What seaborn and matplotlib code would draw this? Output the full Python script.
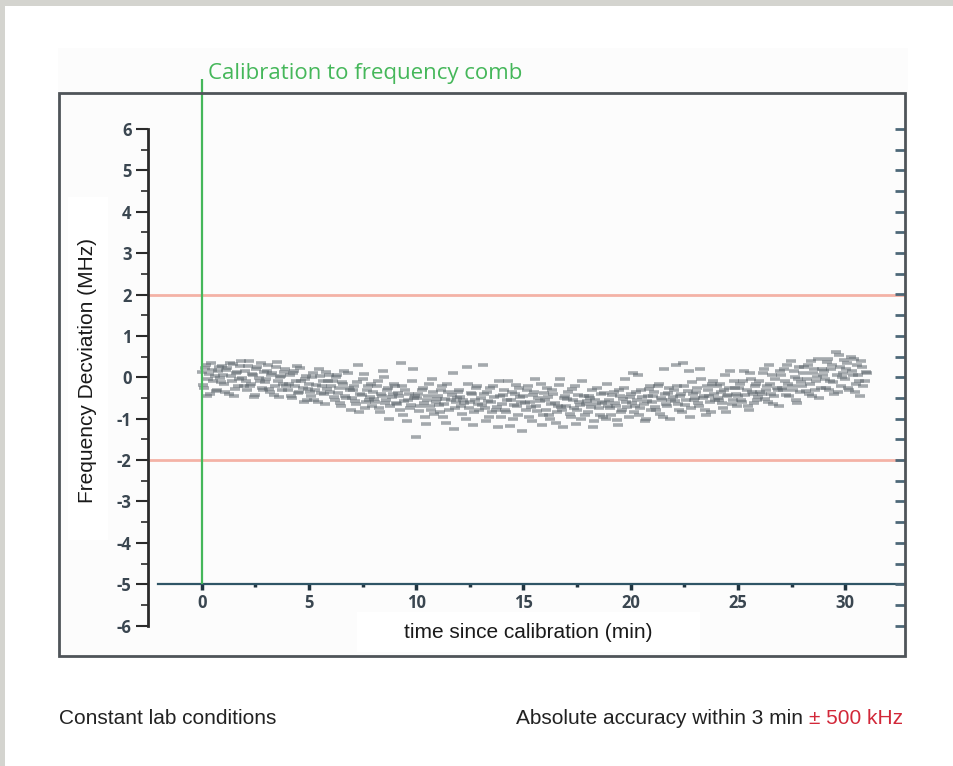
import matplotlib
matplotlib.use('Agg')
import matplotlib.pyplot as plt
from matplotlib.patches import Rectangle
from matplotlib.ticker import FixedLocator
import seaborn as sns
import pandas as pd

# ---------------- data ----------------
t_min = [
    0.0, 0.1, 0.2, 0.3, 0.4, 0.5, 0.6, 0.7, 0.8, 0.9,
    1.0, 1.1, 1.2, 1.3, 1.4, 1.5, 1.6, 1.7, 1.8, 1.9,
    2.0, 2.1, 2.2, 2.3, 2.4, 2.5, 2.6, 2.7, 2.8, 2.9,
    3.0, 3.1, 3.2, 3.3, 3.4, 3.5, 3.6, 3.7, 3.8, 3.9,
    4.0, 4.1, 4.2, 4.3, 4.4, 4.5, 4.6, 4.7, 4.8, 4.9,
    5.0, 5.1, 5.2, 5.3, 5.4, 5.5, 5.6, 5.7, 5.8, 5.9,
    6.0, 6.1, 6.2, 6.3, 6.4, 6.5, 6.6, 6.7, 6.8, 6.9,
    7.0, 7.1, 7.2, 7.3, 7.4, 7.5, 7.6, 7.7, 7.8, 7.9,
    8.0, 8.1, 8.2, 8.3, 8.4, 8.5, 8.6, 8.7, 8.8, 8.9,
    9.0, 9.1, 9.2, 9.3, 9.4, 9.5, 9.6, 9.7, 9.8, 9.9,
    10.0, 10.1, 10.2, 10.3, 10.4, 10.5, 10.6, 10.7, 10.8, 10.9,
    11.0, 11.1, 11.2, 11.3, 11.4, 11.5, 11.6, 11.7, 11.8, 11.9,
    12.0, 12.1, 12.2, 12.3, 12.4, 12.5, 12.6, 12.7, 12.8, 12.9,
    13.0, 13.1, 13.2, 13.3, 13.4, 13.5, 13.6, 13.7, 13.8, 13.9,
    14.0, 14.1, 14.2, 14.3, 14.4, 14.5, 14.6, 14.7, 14.8, 14.9,
    15.0, 15.1, 15.2, 15.3, 15.4, 15.5, 15.6, 15.7, 15.8, 15.9,
    16.0, 16.1, 16.2, 16.3, 16.4, 16.5, 16.6, 16.7, 16.8, 16.9,
    17.0, 17.1, 17.2, 17.3, 17.4, 17.5, 17.6, 17.7, 17.8, 17.9,
    18.0, 18.1, 18.2, 18.3, 18.4, 18.5, 18.6, 18.7, 18.8, 18.9,
    19.0, 19.1, 19.2, 19.3, 19.4, 19.5, 19.6, 19.7, 19.8, 19.9,
    20.0, 20.1, 20.2, 20.3, 20.4, 20.5, 20.6, 20.7, 20.8, 20.9,
    21.0, 21.1, 21.2, 21.3, 21.4, 21.5, 21.6, 21.7, 21.8, 21.9,
    22.0, 22.1, 22.2, 22.3, 22.4, 22.5, 22.6, 22.7, 22.8, 22.9,
    23.0, 23.1, 23.2, 23.3, 23.4, 23.5, 23.6, 23.7, 23.8, 23.9,
    24.0, 24.1, 24.2, 24.3, 24.4, 24.5, 24.6, 24.7, 24.8, 24.9,
    25.0, 25.1, 25.2, 25.3, 25.4, 25.5, 25.6, 25.7, 25.8, 25.9,
    26.0, 26.1, 26.2, 26.3, 26.4, 26.5, 26.6, 26.7, 26.8, 26.9,
    27.0, 27.1, 27.2, 27.3, 27.4, 27.5, 27.6, 27.7, 27.8, 27.9,
    28.0, 28.1, 28.2, 28.3, 28.4, 28.5, 28.6, 28.7, 28.8, 28.9,
    29.0, 29.1, 29.2, 29.3, 29.4, 29.5, 29.6, 29.7, 29.8, 29.9,
    30.0, 30.1, 30.2, 30.3, 30.4, 30.5, 30.6, 30.7, 30.8, 30.9,
    31.0,
]
dev_mhz = [
    0.12, -0.25, 0.30, -0.05, -0.40, 0.18, 0.02, -0.30, 0.25, -0.12,
    0.05, -0.35, 0.22, 0.35, -0.10, -0.45, 0.10, -0.20, 0.28, -0.02,
    0.15, -0.30, 0.40, -0.15, 0.05, -0.42, 0.25, -0.08, -0.25, 0.12,
    -0.05, 0.30, -0.35, 0.10, -0.20, 0.38, -0.48, 0.02, -0.15, 0.20,
    -0.30, 0.05, -0.50, 0.15, -0.10, -0.38, 0.22, -0.25, -0.05, -0.55,
    -0.15, -0.45, 0.10, -0.30, -0.60, 0.02, -0.20, -0.40, 0.12, -0.08,
    -0.35, -0.10, -0.55, 0.05, -0.25, -0.70, -0.15, -0.45, 0.10, -0.30,
    -0.50, -0.20, -0.65, 0.30, -0.40, -0.05, -0.75, -0.30, -0.55, -0.15,
    -0.35, -0.60, -0.10, -0.85, -0.45, 0.00, -0.55, -0.25, -0.70, -0.40,
    -0.20, -0.65, -0.45, 0.35, -0.90, -0.30, -0.55, -0.75, -0.10, -0.50,
    -1.45, -0.40, -0.70, -0.25, -0.95, -0.55, -0.15, -0.80, -0.35, -0.60,
    -0.45, -0.85, -0.20, -0.65, -1.10, -0.35, -0.55, 0.10, -0.75, -0.50,
    -0.30, -0.70, -0.55, -1.00, -0.15, -0.60, -0.40, -0.85, -0.25, -0.65,
    -0.50, 0.30, -0.75, -0.35, -0.95, -0.60, -0.20, -0.80, -1.20, -0.45,
    -0.65, -0.30, -0.85, -0.10, -0.55, -1.00, -0.40, -0.70, -0.25, -0.60,
    -0.45, -0.80, -0.20, -0.60, -1.05, -0.35, -0.70, -0.50, -0.15, -0.90,
    -0.55, -0.25, -0.90, -0.65, -0.40, -1.10, -0.70, -0.05, -0.80, -0.50,
    -0.70, -0.35, -0.95, -0.55, -0.20, -0.80, -0.60, -1.00, -0.45, -0.65,
    -0.85, -0.50, -0.30, -1.05, -0.65, -0.75, -0.40, -0.95, -0.60, -0.15,
    -0.55, -0.90, -0.35, -0.70, -1.15, -0.45, -0.80, -0.25, -0.60, -0.95,
    -0.40, 0.10, -0.70, -0.55, -0.90, -0.30, -0.65, -1.00, -0.45, -0.20,
    -0.60, -0.35, -0.80, -0.15, -0.50, -0.95, -0.40, -0.70, -0.25, -0.55,
    -0.30, 0.30, -0.65, -0.45, -0.85, -0.20, -0.55, 0.15, -0.75, -0.40,
    -0.50, -0.25, -0.70, -0.05, -0.45, -0.90, -0.30, -0.60, -0.15, -0.40,
    -0.20, -0.55, -0.35, -0.75, 0.05, -0.45, -0.25, -0.65, -0.10, -0.40,
    -0.45, -0.15, -0.60, 0.15, -0.30, -0.80, -0.05, -0.40, -0.20, -0.55,
    -0.10, -0.40, 0.20, -0.30, -0.60, -0.15, 0.05, -0.45, -0.25, -0.70,
    0.05, -0.30, -0.10, 0.30, -0.45, -0.20, 0.15, -0.55, -0.05, -0.35,
    -0.20, 0.25, -0.05, -0.40, 0.40, 0.10, -0.30, 0.00, -0.50, 0.20,
    0.15, -0.25, 0.45, -0.10, 0.30, -0.40, 0.05, 0.55, -0.20, 0.10,
    -0.05, 0.35, -0.30, 0.15, 0.45, -0.15, 0.05, -0.45, 0.25, -0.10,
    0.10,
]
t_min_b = [
    0.05, 0.15, 0.25, 0.35, 0.45, 0.55, 0.65, 0.75, 0.85, 0.95,
    1.05, 1.15, 1.25, 1.35, 1.45, 1.55, 1.65, 1.75, 1.85, 1.95,
    2.05, 2.15, 2.25, 2.35, 2.45, 2.55, 2.65, 2.75, 2.85, 2.95,
    3.05, 3.15, 3.25, 3.35, 3.45, 3.55, 3.65, 3.75, 3.85, 3.95,
    4.05, 4.15, 4.25, 4.35, 4.45, 4.55, 4.65, 4.75, 4.85, 4.95,
    5.05, 5.15, 5.25, 5.35, 5.45, 5.55, 5.65, 5.75, 5.85, 5.95,
    6.05, 6.15, 6.25, 6.35, 6.45, 6.55, 6.65, 6.75, 6.85, 6.95,
    7.05, 7.15, 7.25, 7.35, 7.45, 7.55, 7.65, 7.75, 7.85, 7.95,
    8.05, 8.15, 8.25, 8.35, 8.45, 8.55, 8.65, 8.75, 8.85, 8.95,
    9.05, 9.15, 9.25, 9.35, 9.45, 9.55, 9.65, 9.75, 9.85, 9.95,
    10.05, 10.15, 10.25, 10.35, 10.45, 10.55, 10.65, 10.75, 10.85, 10.95,
    11.05, 11.15, 11.25, 11.35, 11.45, 11.55, 11.65, 11.75, 11.85, 11.95,
    12.05, 12.15, 12.25, 12.35, 12.45, 12.55, 12.65, 12.75, 12.85, 12.95,
    13.05, 13.15, 13.25, 13.35, 13.45, 13.55, 13.65, 13.75, 13.85, 13.95,
    14.05, 14.15, 14.25, 14.35, 14.45, 14.55, 14.65, 14.75, 14.85, 14.95,
    15.05, 15.15, 15.25, 15.35, 15.45, 15.55, 15.65, 15.75, 15.85, 15.95,
    16.05, 16.15, 16.25, 16.35, 16.45, 16.55, 16.65, 16.75, 16.85, 16.95,
    17.05, 17.15, 17.25, 17.35, 17.45, 17.55, 17.65, 17.75, 17.85, 17.95,
    18.05, 18.15, 18.25, 18.35, 18.45, 18.55, 18.65, 18.75, 18.85, 18.95,
    19.05, 19.15, 19.25, 19.35, 19.45, 19.55, 19.65, 19.75, 19.85, 19.95,
    20.05, 20.15, 20.25, 20.35, 20.45, 20.55, 20.65, 20.75, 20.85, 20.95,
    21.05, 21.15, 21.25, 21.35, 21.45, 21.55, 21.65, 21.75, 21.85, 21.95,
    22.05, 22.15, 22.25, 22.35, 22.45, 22.55, 22.65, 22.75, 22.85, 22.95,
    23.05, 23.15, 23.25, 23.35, 23.45, 23.55, 23.65, 23.75, 23.85, 23.95,
    24.05, 24.15, 24.25, 24.35, 24.45, 24.55, 24.65, 24.75, 24.85, 24.95,
    25.05, 25.15, 25.25, 25.35, 25.45, 25.55, 25.65, 25.75, 25.85, 25.95,
    26.05, 26.15, 26.25, 26.35, 26.45, 26.55, 26.65, 26.75, 26.85, 26.95,
    27.05, 27.15, 27.25, 27.35, 27.45, 27.55, 27.65, 27.75, 27.85, 27.95,
    28.05, 28.15, 28.25, 28.35, 28.45, 28.55, 28.65, 28.75, 28.85, 28.95,
    29.05, 29.15, 29.25, 29.35, 29.45, 29.55, 29.65, 29.75, 29.85, 29.95,
    30.05, 30.15, 30.25, 30.35, 30.45, 30.55, 30.65, 30.75, 30.85, 30.95,
]
dev_mhz_b = [
    -0.18, 0.22, -0.45, 0.08, 0.35, -0.10, -0.32, 0.15, -0.02, 0.28,
    -0.15, 0.18, -0.40, 0.02, 0.32, -0.28, 0.12, -0.05, 0.40, -0.22,
    -0.10, 0.28, -0.20, 0.08, -0.48, 0.20, -0.02, 0.35, -0.30, -0.12,
    0.15, -0.28, 0.05, -0.42, 0.25, -0.10, 0.00, -0.30, 0.12, -0.22,
    -0.15, -0.45, 0.10, -0.22, 0.28, -0.35, -0.08, -0.60, 0.02, -0.28,
    -0.35, 0.00, -0.55, -0.18, 0.20, -0.38, -0.10, -0.65, -0.28, 0.05,
    -0.20, -0.48, 0.00, -0.38, -0.62, -0.12, 0.15, -0.50, -0.25, -0.80,
    -0.30, -0.58, -0.12, -0.85, -0.42, 0.08, -0.60, -0.22, -0.48, -0.70,
    -0.52, -0.22, -0.75, -0.40, 0.15, -0.62, -0.30, -1.00, -0.48, -0.15,
    -0.62, -0.38, -0.80, -0.20, -0.58, -1.05, -0.40, -0.68, 0.20, -0.45,
    -0.50, -0.82, -0.30, -0.62, -1.12, -0.45, -0.70, -0.05, -0.88, -0.52,
    -0.68, -0.30, -0.95, -0.52, -0.15, -0.78, -0.42, -1.25, -0.60, -0.35,
    -0.48, -0.88, -0.62, 0.25, -0.75, -0.38, -1.15, -0.55, -0.20, -0.80,
    -0.68, -0.40, -1.05, -0.58, -0.25, -0.85, -0.48, -0.72, -0.08, -0.95,
    -0.42, -0.78, -0.55, -1.18, -0.35, -0.68, -0.18, -0.90, -0.48, -1.30,
    -0.62, -0.30, -0.95, -0.72, -0.42, -0.05, -0.82, -0.58, -1.15, -0.38,
    -0.78, -0.48, -1.00, -0.30, -0.62, -0.85, -0.18, -0.72, -1.20, -0.45,
    -0.52, -0.88, -0.28, -0.75, -1.12, -0.42, -0.68, -0.10, -0.90, -0.58,
    -0.45, -0.72, -1.20, -0.55, -0.25, -0.90, -0.62, -0.38, -1.00, -0.70,
    -0.75, -0.42, -0.62, -1.02, -0.30, -0.85, -0.52, -0.05, -0.72, -0.48,
    -0.62, -0.85, -0.35, 0.05, -0.75, -0.48, -1.05, -0.58, -0.28, -0.80,
    -0.45, -0.72, -0.22, -0.88, -0.55, 0.20, -0.65, -0.38, -1.00, -0.48,
    -0.58, -0.22, -0.80, -0.40, 0.35, -0.68, -0.32, -0.95, -0.12, -0.55,
    -0.35, -0.62, 0.20, -0.50, -0.78, -0.22, -0.45, -0.85, -0.10, -0.55,
    -0.50, -0.15, -0.62, -0.30, -0.85, -0.42, 0.15, -0.55, -0.25, -0.70,
    -0.25, -0.55, -0.08, -0.42, -0.70, 0.10, -0.35, -0.62, -0.15, -0.48,
    -0.35, 0.10, -0.52, -0.20, 0.30, -0.40, -0.65, -0.05, -0.30, 0.15,
    -0.25, 0.20, -0.42, -0.15, 0.40, -0.30, 0.00, -0.62, 0.25, -0.12,
    0.10, -0.32, 0.30, -0.15, -0.45, 0.20, -0.08, 0.45, -0.25, 0.05,
    -0.05, 0.38, -0.30, 0.20, -0.12, 0.60, -0.35, 0.25, 0.00, 0.42,
    0.20, -0.25, 0.50, 0.05, -0.35, 0.30, -0.10, 0.40, -0.20, 0.12,
]
x_major_ticks = [0, 5, 10, 15, 20, 25, 30]
x_minor_ticks = [2.5, 7.5, 12.5, 17.5, 22.5, 27.5]
y_major_ticks = [-6, -5, -4, -3, -2, -1, 0, 1, 2, 3, 4, 5, 6]
y_minor_ticks = [-5.5, -4.5, -3.5, -2.5, -1.5, -0.5, 0.5, 1.5, 2.5, 3.5, 4.5, 5.5]
right_ticks = [-6, -5.5, -5, -4.5, -4, -3.5, -3, -2.5, -2, -1.5, -1, -0.5, 0,
               0.5, 1, 1.5, 2, 2.5, 3, 3.5, 4, 4.5, 5, 5.5, 6]
limit_lines = [2, -2]
calibration_time = 0

title_text = 'Calibration to frequency comb'
ylabel_text = 'Frequency Decviation (MHz)'
xlabel_text = 'time since calibration (min)'
left_note = 'Constant lab conditions'
right_note_black = 'Absolute accuracy within 3 min'
right_note_red = '\u00b1 500 kHz'

# ---------------- styling ----------------
sns.set_theme(style='white')
plt.rcParams['font.family'] = ['Liberation Sans', 'DejaVu Sans']
plt.rcParams['axes.unicode_minus'] = False

W, H = 954, 766
fig = plt.figure(figsize=(W / 100, H / 100), dpi=100, facecolor='#d4d4cf')


def fx(px):
    return px / W


def fy(py):
    return 1 - py / H


def frect(x0, y0, x1, y1, **kw):
    r = Rectangle((fx(x0), fy(y1)), fx(x1) - fx(x0), fy(y0) - fy(y1),
                  transform=fig.transFigure, **kw)
    fig.patches.append(r)
    return r


# white card and faint plot-image background
frect(5, 6, W + 2, H + 2, facecolor='white', edgecolor='none', zorder=-5)
frect(58, 48, 908, 658, facecolor='#fcfcfc', edgecolor='none', zorder=-4)
# white label boxes
frect(68, 197, 108, 540, facecolor='white', edgecolor='none', zorder=-3)
frect(357, 612, 700, 652, facecolor='white', edgecolor='none', zorder=-3)

# pixel calibration of the data axes
PX0, PXU = 201.7, 21.45
PY0, PYU = 377.3, 41.4
L, R, T, B = 59, 905, 93, 656
xlo, xhi = (L - PX0) / PXU, (R - PX0) / PXU
ylo, yhi = (PY0 - B) / PYU, (PY0 - T) / PYU

ax = fig.add_axes([fx(L), fy(B), fx(R) - fx(L), fy(T) - fy(B)])
ax.set_facecolor('none')

df = pd.DataFrame({'t': t_min + t_min_b, 'dev': dev_mhz + dev_mhz_b})
sns.scatterplot(data=df, x='t', y='dev', ax=ax, marker='_', s=50,
                linewidth=2.6, color='#5d666d', alpha=0.55, legend=False,
                zorder=3)

ax.hlines(limit_lines, -2.5, xhi, color='#f4b2a6', lw=2, zorder=2)
ax.vlines(calibration_time, -5, (PY0 - 79) / PYU, color='#45b75a', lw=1.6,
          clip_on=False, zorder=4)
ax.text(calibration_time + 0.29, (PY0 - 73) / PYU, title_text,
        color='#45b75a', fontsize=16, family=['Open Sans', 'DejaVu Sans'],
        ha='left', va='center', clip_on=False)

ax.set_xlim(xlo, xhi)
ax.set_ylim(ylo, yhi)
ax.set_xlabel('')
ax.set_ylabel('')

ax.spines['top'].set_visible(False)
ax.spines['right'].set_visible(False)
ax.spines['left'].set_position(('data', -2.5))
ax.spines['left'].set_bounds(-6, 6)
ax.spines['left'].set_color('#2b2b2b')
ax.spines['left'].set_linewidth(2)
ax.spines['bottom'].set_position(('data', -5))
ax.spines['bottom'].set_bounds(-2.05, xhi)
ax.spines['bottom'].set_color('#2f5566')
ax.spines['bottom'].set_linewidth(1.6)

ax.xaxis.set_major_locator(FixedLocator(x_major_ticks))
ax.xaxis.set_minor_locator(FixedLocator(x_minor_ticks))
ax.yaxis.set_major_locator(FixedLocator(y_major_ticks))
ax.yaxis.set_minor_locator(FixedLocator(y_minor_ticks))

ax.tick_params(axis='y', which='major', left=True, direction='out', length=9,
               width=1.5, color='#2b2b2b', labelsize=12, pad=3,
               labelcolor='#3a4650')
ax.tick_params(axis='y', which='minor', left=True, direction='out', length=5,
               width=1.2, color='#2b2b2b')
ax.tick_params(axis='x', which='major', bottom=True, direction='out', length=4,
               width=2.5, color='#1f3440', labelsize=12, pad=3,
               labelcolor='#3a4650')
ax.tick_params(axis='x', which='minor', bottom=True, direction='out',
               length=2.5, width=2.5, color='#1f3440')
for lbl in ax.get_xticklabels() + ax.get_yticklabels():
    lbl.set_fontweight('bold')
    lbl.set_family(['Open Sans', 'DejaVu Sans'])

ar = ax.twinx()
ar.set_ylim(ylo, yhi)
for s in ar.spines.values():
    s.set_visible(False)
ar.yaxis.set_major_locator(FixedLocator(right_ticks))
ar.tick_params(axis='y', which='major', right=True, left=False,
               direction='in', length=7, width=2, color='#4d6878',
               labelright=False, labelleft=False)
ar.grid(False)
ax.grid(False)

# outer frame of the plot image
frect(L, T, R, B, facecolor='none', edgecolor='#4f5459', lw=2, zorder=10)

# axis labels
fig.text(fx(88), fy(370), ylabel_text, rotation=90, ha='center', va='center',
         fontsize=15, color='#1a1a1a')
fig.text(fx(528), fy(633), xlabel_text, ha='center', va='center',
         fontsize=15, color='#1a1a1a')

# notes below
fig.text(fx(59), fy(718), left_note, ha='left', va='center', fontsize=15,
         color='#222222')
red = fig.text(fx(903), fy(718), right_note_red, ha='right', va='center',
               fontsize=15, color='#d22839')
renderer = fig.canvas.get_renderer()
bb = red.get_window_extent(renderer)
fig.text((bb.x0 - 6) / W, fy(718), right_note_black, ha='right', va='center',
         fontsize=15, color='#222222')

fig.savefig('out.png', dpi=100, facecolor=fig.get_facecolor())
